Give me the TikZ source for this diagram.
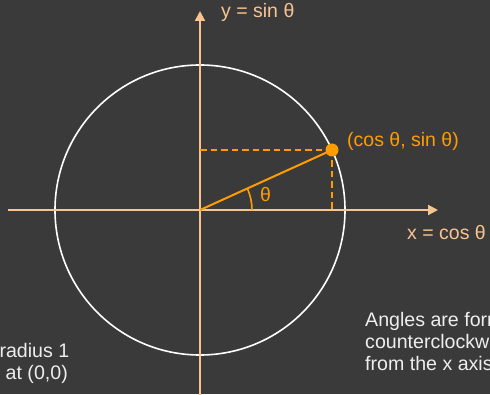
\documentclass[tikz,border=0pt]{standalone}
\usepackage{fontspec}
\setmainfont{Liberation Sans}
\usetikzlibrary{arrows.meta,calc}
\definecolor{bgc}{RGB}{58,58,58}
\definecolor{peach}{RGB}{250,196,145}
\definecolor{orng}{RGB}{255,157,0}
\definecolor{txt}{RGB}{238,238,238}
\tikzset{
  axis/.style={draw=peach, line width=2pt, -{Triangle[length=10pt,width=10pt]}},
  unitcirc/.style={draw=white, line width=1.6pt},
  radline/.style={draw=orng, line width=2pt},
  dashline/.style={draw=orng, line width=2pt, dash pattern=on 6.5pt off 4pt},
  lbl/.style={inner sep=0pt, anchor=base west, font=\fontsize{19.5}{22}\selectfont},
  note/.style={inner sep=0pt, text=txt, font=\fontsize{19.6}{22}\selectfont}
}
\begin{document}
\begin{tikzpicture}[x=1pt,y=1pt]
\fill[bgc] (0,0) rectangle (490,394);
\useasboundingbox (0,0) rectangle (490,394);
\clip (0,0) rectangle (490,394);
\coordinate (O) at (200,184);
\coordinate (P) at (332,244);
\coordinate (Px) at (332,184);
\coordinate (Py) at (200,244);
\coordinate (xl) at (8,184);
\coordinate (xr) at (438,184);
\coordinate (yb) at (200,-2);
\coordinate (yt) at (200,383);
\coordinate (A0) at (252,184);
% circle
\draw[unitcirc] (O) circle (145);
% axes
\draw[axis] (xl) -- (xr);
\draw[axis] (yb) -- (yt);
% projections
\draw[dashline] (Py) -- (P);
\draw[dashline] (P) -- (Px);
% radius
\draw[radline] (O) -- (P);
% angle arc
\draw[draw=orng, line width=1.6pt] (A0) arc[start angle=0, end angle=24.44, radius=52];
\fill[orng] (P) circle (6.5);
% labels
\node[lbl, text=peach] (ylab) at (221,376) {y = sin θ};
\node[lbl, text=peach] (xlab) at (407,154) {x = cos θ};
\node[lbl, text=orng] (plab) at (347,247) {(cos θ, sin θ)};
\node[lbl, text=orng] (tlab) at (260,192) {θ};
% notes
\node[note, anchor=base east] (l1) at (69.5,37) {radius 1};
\node[note, anchor=base east] (l2) at (68,15) {at (0,0)};
\node[note, anchor=base west] (r1) at (365,68) {Angles are formed};
\node[note, anchor=base west] (r2) at (365,46) {counterclockwise};
\node[note, anchor=base west] (r3) at (365,24) {from the x axis};
\end{tikzpicture}
\end{document}
